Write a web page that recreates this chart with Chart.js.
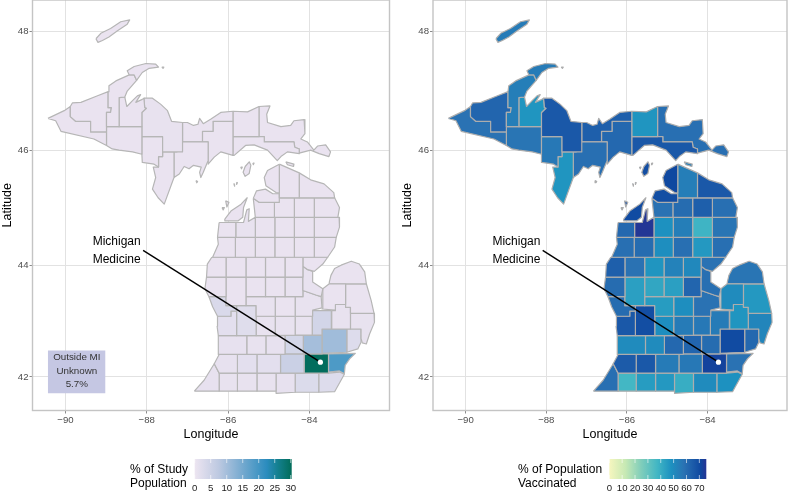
<!DOCTYPE html>
<html>
<head>
<meta charset="utf-8">
<script src="https://cdn.jsdelivr.net/npm/chart.js@4"></script>
<style>
  body { margin: 0; background: #fff; overflow: hidden; }
  canvas { position: absolute; top: -4px; }
  #mapStudy { left: 0; }
  #mapVaccine { left: 400px; }
</style>
</head>
<body>
<canvas id="mapStudy" width="400" height="504"></canvas>
<canvas id="mapVaccine" width="391" height="504"></canvas>
<script>
// ── data ──

const countyNames = [
  'Keweenaw', 'Houghton', 'Baraga', 'Ontonagon', 'Gogebic', 'Iron', 'Marquette', 'Dickinson',
  'Menominee', 'Delta', 'Alger', 'Schoolcraft', 'Luce', 'Mackinac', 'Chippewa',
  'Emmet', 'Cheboygan', 'Presque Isle', 'Charlevoix', 'Antrim', 'Otsego', 'Montmorency', 'Alpena',
  'Leelanau', 'Benzie', 'Grand Traverse', 'Kalkaska', 'Crawford', 'Oscoda', 'Alcona',
  'Manistee', 'Wexford', 'Missaukee', 'Roscommon', 'Ogemaw', 'Iosco',
  'Mason', 'Lake', 'Osceola', 'Clare', 'Gladwin', 'Arenac', 'Bay',
  'Oceana', 'Newaygo', 'Mecosta', 'Isabella', 'Midland',
  'Muskegon', 'Montcalm', 'Gratiot', 'Saginaw', 'Tuscola', 'Huron', 'Sanilac',
  'Ottawa', 'Kent', 'Ionia', 'Clinton', 'Shiawassee', 'Genesee', 'Lapeer', 'St Clair',
  'Allegan', 'Barry', 'Eaton', 'Ingham', 'Livingston', 'Oakland', 'Macomb',
  'Van Buren', 'Kalamazoo', 'Calhoun', 'Jackson', 'Washtenaw', 'Wayne',
  'Berrien', 'Cass', 'St Joseph', 'Branch', 'Hillsdale', 'Lenawee', 'Monroe'
];

// % of study population, same order as countyNames
const studyPct = [
  0.5, 0.5, 0.5, 0.5, 0.5, 0.5, 0.8, 0.5,
  0.5, 0.5, 0.5, 0.5, 0.5, 0.5, 0.5,
  0.5, 0.5, 0.5, 0.5, 0.5, 0.5, 0.5, 0.5,
  0.5, 0.5, 0.8, 0.5, 0.5, 0.5, 0.5,
  0.5, 0.5, 0.5, 0.5, 0.5, 0.5,
  0.5, 0.5, 0.5, 0.5, 0.5, 0.5, 0.8,
  0.5, 0.5, 0.5, 0.5, 0.8,
  3.2, 0.8, 0.5, 0.8, 0.5, 0.5, 0.5,
  1.5, 2.2, 0.8, 0.8, 0.8, 4.2, 0.8, 0.8,
  1, 0.8, 1, 4, 10, 10.5, 2.5,
  1, 1.5, 1.5, 5.5, 30, 19,
  1, 0.8, 0.8, 0.8, 1, 2.8, 2.5
];

// % of population vaccinated, same order as countyNames
const vaccinatedPct = [
  55, 54, 47, 62, 58, 57, 66, 56,
  47, 59, 64, 61, 47, 66, 59,
  71, 54, 66, 69, 58, 60, 64, 59,
  70, 61, 75, 48, 54, 38, 57,
  59, 60, 49, 59, 46, 59,
  64, 58, 47, 53, 51, 58, 59,
  60, 44, 42, 44, 62,
  60, 45, 49, 58, 50, 57, 46,
  66, 69, 49, 55, 56, 55, 47, 52,
  50, 50, 61, 62, 60, 70, 61,
  65, 66, 55, 56, 72, 58,
  59, 37, 45, 46, 40, 50, 48
];

// county outlines, lon,lat pairs, same order as countyNames
const countyOutlines = [
  [-88.43,47.28, -88.48,47.35, -88.31,47.42, -88.02,47.47, -87.78,47.46, -87.71,47.41, -87.94,47.39, -88.11,47.32, -88.25,47.19, -88.31,47.28],
  [-88.95,47.00, -88.93,47.10, -88.76,47.18, -88.43,47.28, -88.31,47.28, -88.25,47.19, -88.48,47.01, -88.54,46.91, -88.68,46.90, -88.68,46.41, -88.99,46.41, -88.99,46.65, -88.89,46.65, -88.87,46.73, -88.95,46.73],
  [-88.68,46.90, -88.54,46.91, -88.49,46.75, -88.35,46.85, -88.23,46.93, -88.15,46.95, -88.27,46.82, -88.11,46.87, -88.07,46.89, -88.05,46.73, -88.01,46.72, -88.12,46.65, -88.12,46.41, -88.68,46.41],
  [-89.88,46.75, -89.83,46.81, -89.62,46.82, -89.21,46.93, -88.95,47.00, -88.95,46.73, -88.87,46.73, -88.89,46.65, -88.99,46.65, -88.99,46.32, -89.38,46.32, -89.38,46.50, -89.75,46.50, -89.88,46.58],
  [-90.43,46.55, -90.03,46.68, -89.88,46.75, -89.88,46.58, -89.75,46.50, -89.38,46.50, -89.38,46.32, -88.99,46.32, -88.99,46.09, -89.30,46.20, -90.11,46.33, -90.24,46.51],
  [-88.99,46.41, -88.12,46.41, -88.12,45.94, -88.35,45.98, -88.68,46.01, -88.85,46.03, -88.99,46.09],
  [-88.07,46.89, -87.86,46.89, -87.66,46.79, -87.49,46.68, -87.39,46.50, -87.12,46.48, -87.12,45.98, -87.61,45.98, -87.61,46.24, -88.12,46.24, -88.12,46.65, -88.01,46.72, -88.05,46.73],
  [-88.12,46.24, -87.61,46.24, -87.61,45.90, -87.71,45.90, -87.71,45.72, -87.82,45.77, -88.11,45.80, -88.12,45.94],
  [-87.61,45.98, -87.33,45.98, -87.33,45.54, -87.57,45.08, -87.72,45.19, -87.86,45.34, -87.78,45.54, -87.84,45.72, -87.71,45.72, -87.71,45.90, -87.61,45.90],
  [-87.26,46.15, -86.49,46.15, -86.49,45.83, -86.51,45.80, -86.61,45.63, -86.67,45.54, -86.70,45.63, -86.66,45.72, -86.85,45.75, -86.96,45.69, -87.08,45.73, -87.20,45.60, -87.33,45.54, -87.33,45.98, -87.26,45.98],
  [-87.12,46.48, -87.00,46.48, -86.85,46.43, -86.74,46.45, -86.70,46.55, -86.61,46.46, -86.42,46.54, -86.18,46.65, -85.88,46.67, -85.88,46.50, -86.37,46.50, -86.37,46.33, -86.63,46.33, -86.63,46.15, -87.12,46.15],
  [-86.37,46.50, -85.88,46.50, -85.88,45.92, -86.18,45.98, -86.34,45.89, -86.49,45.77, -86.49,46.15, -86.63,46.15, -86.63,46.33, -86.37,46.33],
  [-85.88,46.67, -85.52,46.66, -85.24,46.75, -85.24,46.24, -85.88,46.24],
  [-85.88,46.24, -85.11,46.24, -85.11,46.15, -84.38,46.15, -84.36,46.06, -84.25,46.03, -84.25,45.95, -84.54,45.98, -84.70,45.90, -84.79,45.83, -85.03,46.01, -85.36,46.10, -85.57,46.09, -85.85,45.92, -85.88,45.92],
  [-85.24,46.75, -84.97,46.76, -85.05,46.62, -85.03,46.48, -84.70,46.41, -84.46,46.43, -84.38,46.51, -84.13,46.53, -84.11,46.29, -84.21,46.20, -84.05,46.15, -83.89,46.01, -83.80,46.08, -83.60,46.10, -83.48,45.98, -83.52,45.90, -83.76,45.95, -83.97,46.01, -84.25,45.96, -84.25,46.03, -84.36,46.06, -84.38,46.15, -85.11,46.15, -85.11,46.24, -85.24,46.24],

  [-84.74,45.77, -85.03,45.66, -85.11,45.54, -85.07,45.40, -84.82,45.28, -84.74,45.27],
  [-84.74,45.77, -84.25,45.62, -84.25,45.19, -84.74,45.19],
  [-84.25,45.62, -83.97,45.50, -83.64,45.43, -83.40,45.28, -83.38,45.19, -84.25,45.19],
  [-85.38,45.18, -85.30,45.31, -85.08,45.34, -84.90,45.26, -84.74,45.26, -84.74,45.11, -85.23,45.11],
  [-85.38,45.18, -85.23,45.11, -84.86,45.11, -84.86,44.85, -85.33,44.85],
  [-84.86,45.19, -84.37,45.19, -84.37,44.85, -84.86,44.85],
  [-84.37,45.19, -83.88,45.19, -83.88,44.85, -84.37,44.85],
  [-83.88,45.19, -83.38,45.19, -83.26,45.02, -83.30,44.85, -83.88,44.85],
  [-86.08,44.82, -85.93,44.96, -85.68,45.08, -85.53,45.19, -85.62,45.02, -85.64,44.85, -85.75,44.79, -86.08,44.79],
  [-86.22,44.76, -85.81,44.76, -85.81,44.50, -86.26,44.50],
  [-85.81,44.76, -85.62,44.76, -85.54,44.98, -85.48,45.00, -85.50,44.78, -85.33,44.85, -85.33,44.50, -85.81,44.50],
  [-85.33,44.85, -84.85,44.85, -84.85,44.50, -85.33,44.50],
  [-84.85,44.85, -84.37,44.85, -84.37,44.50, -84.85,44.50],
  [-84.37,44.85, -83.88,44.85, -83.88,44.50, -84.37,44.50],
  [-83.88,44.85, -83.27,44.85, -83.26,44.68, -83.34,44.50, -83.88,44.50],

  [-86.26,44.50, -85.82,44.50, -85.82,44.15, -86.38,44.15, -86.24,44.38],
  [-85.82,44.50, -85.33,44.50, -85.33,44.15, -85.82,44.15],
  [-85.33,44.50, -84.85,44.50, -84.85,44.15, -85.33,44.15],
  [-84.85,44.50, -84.37,44.50, -84.37,44.15, -84.85,44.15],
  [-84.37,44.50, -83.88,44.50, -83.88,44.15, -84.37,44.15],
  [-83.88,44.50, -83.34,44.50, -83.38,44.33, -83.55,44.15, -83.88,44.15],

  [-86.40,44.15, -86.05,44.15, -86.05,43.80, -86.53,43.80, -86.51,44.03],
  [-86.05,44.15, -85.56,44.15, -85.56,43.80, -86.05,43.80],
  [-85.56,44.15, -85.08,44.15, -85.08,43.80, -85.56,43.80],
  [-85.08,44.15, -84.60,44.15, -84.60,43.80, -85.08,43.80],
  [-84.60,44.15, -84.16,44.15, -84.16,43.80, -84.60,43.80],
  [-84.16,44.15, -83.55,44.15, -83.67,44.03, -83.88,43.90, -84.04,43.93, -84.16,43.99],
  [-84.16,43.99, -84.04,43.93, -83.92,43.90, -83.92,43.71, -83.67,43.59, -83.71,43.45, -83.84,43.48, -84.16,43.56],

  [-86.53,43.80, -86.05,43.80, -86.05,43.45, -86.47,43.45, -86.57,43.59],
  [-86.05,43.80, -85.56,43.80, -85.56,43.29, -86.05,43.29],
  [-85.56,43.80, -85.08,43.80, -85.08,43.45, -85.56,43.45],
  [-85.08,43.80, -84.60,43.80, -84.60,43.45, -85.08,43.45],
  [-84.60,43.80, -84.16,43.80, -84.16,43.45, -84.60,43.45],

  [-86.47,43.45, -86.05,43.45, -86.05,43.29, -85.79,43.29, -85.79,43.19, -85.93,43.19, -85.93,43.10, -86.26,43.10, -86.38,43.27],
  [-85.56,43.45, -84.84,43.45, -84.84,43.10, -85.31,43.10, -85.31,43.29, -85.56,43.29],
  [-84.84,43.45, -84.35,43.45, -84.35,43.10, -84.84,43.10],
  [-84.35,43.45, -84.16,43.45, -84.16,43.56, -83.84,43.48, -83.71,43.45, -83.69,43.25, -83.92,43.21, -83.92,43.10, -84.35,43.10],
  [-83.67,43.59, -83.51,43.68, -83.11,43.68, -83.11,43.31, -83.36,43.31, -83.36,43.21, -83.69,43.23],
  [-83.51,43.68, -83.51,43.71, -83.47,43.83, -83.38,43.95, -83.22,44.01, -82.97,44.08, -82.77,44.03, -82.64,43.89, -82.60,43.68],
  [-83.11,43.68, -82.60,43.68, -82.48,43.38, -82.41,43.15, -82.99,43.15, -82.99,43.26, -83.11,43.26],

  [-86.26,43.10, -85.93,43.10, -85.93,43.19, -85.79,43.19, -85.79,42.75, -86.24,42.75, -86.27,42.92],
  [-85.79,43.29, -85.31,43.29, -85.31,42.75, -85.79,42.75],
  [-85.31,43.10, -84.84,43.10, -84.84,42.75, -85.31,42.75],
  [-84.84,43.10, -84.35,43.10, -84.35,42.76, -84.84,42.75],
  [-84.35,43.10, -83.93,43.10, -83.93,42.76, -84.35,42.76],
  [-83.93,43.20, -83.46,43.20, -83.46,42.87, -83.69,42.87, -83.69,42.76, -83.93,42.76],
  [-83.45,43.20, -83.36,43.20, -83.36,43.31, -83.11,43.31, -83.11,43.26, -82.99,43.26, -82.99,42.87, -83.45,42.87],
  [-82.99,43.15, -82.41,43.15, -82.40,42.99, -82.52,42.78, -82.60,42.60, -82.70,42.62, -82.73,42.70, -82.73,42.87, -82.99,42.87],

  [-86.24,42.75, -85.54,42.75, -85.54,42.41, -86.24,42.41],
  [-85.54,42.75, -85.07,42.75, -85.07,42.41, -85.54,42.41],
  [-85.07,42.75, -84.60,42.75, -84.60,42.41, -85.07,42.41],
  [-84.60,42.76, -84.15,42.76, -84.15,42.42, -84.60,42.42],
  [-84.15,42.76, -83.69,42.76, -83.69,42.42, -84.15,42.42],
  [-83.69,42.87, -83.08,42.87, -83.08,42.45, -83.69,42.43],
  [-83.08,42.87, -82.73,42.87, -82.73,42.63, -82.81,42.51, -83.08,42.45],

  [-86.22,42.41, -85.77,42.41, -85.77,42.07, -86.22,42.07, -86.34,42.24],
  [-85.77,42.41, -85.29,42.41, -85.29,42.07, -85.77,42.07],
  [-85.29,42.41, -84.71,42.41, -84.71,42.07, -85.29,42.07],
  [-84.71,42.42, -84.13,42.42, -84.13,42.07, -84.71,42.07],
  [-84.13,42.42, -83.53,42.42, -83.53,42.07, -84.13,42.07],
  [-83.53,42.42, -82.87,42.43, -83.01,42.33, -83.12,42.21, -83.14,42.06, -83.26,42.11, -83.53,42.09],

  [-86.83,41.74, -86.59,41.94, -86.34,42.24, -86.22,42.07, -86.22,41.74],
  [-86.22,42.07, -85.77,42.07, -85.77,41.74, -86.22,41.74],
  [-85.77,42.07, -85.29,42.07, -85.29,41.74, -85.77,41.74],
  [-85.29,42.07, -84.82,42.07, -84.82,41.74, -85.29,41.74],
  [-84.82,42.07, -84.35,42.07, -84.35,41.72, -84.82,41.70],
  [-84.35,42.07, -83.77,42.07, -83.77,41.72, -84.35,41.72],
  [-83.77,42.07, -83.53,42.07, -83.26,42.09, -83.14,42.05, -83.38,41.73, -83.77,41.72]
];

const islandCounty = ['Keweenaw', 'Keweenaw', 'Charlevoix', 'Charlevoix', 'Charlevoix', 'Charlevoix', 'Charlevoix', 'Delta', 'Leelanau', 'Leelanau', 'Mackinac', 'Cheboygan'];
const islandOutlines = [
  [-89.25,47.88, -89.13,47.97, -88.89,48.05, -88.64,48.16, -88.42,48.19, -88.48,48.12, -88.72,48.01, -88.93,47.91, -89.09,47.85, -89.20,47.82],
  [-87.63,47.41, -87.58,47.41, -87.60,47.39],
  [-85.58,45.73, -85.48,45.81, -85.44,45.75, -85.48,45.61, -85.58,45.56, -85.63,45.63],
  [-85.69,45.72, -85.65,45.72, -85.67,45.69],
  [-85.39,45.79, -85.36,45.79, -85.38,45.76],
  [-85.86,45.44, -85.84,45.42, -85.84,45.39],
  [-85.79,45.46, -85.77,45.45, -85.79,45.42],
  [-86.79,45.49, -86.75,45.47, -86.77,45.45],
  [-86.06,45.14, -85.98,45.11, -86.03,45.03],
  [-86.15,45.02, -86.09,45.02, -86.12,44.98],
  [-84.70,45.98, -84.64,45.97, -84.66,45.93],
  [-84.58,45.81, -84.38,45.77, -84.39,45.73, -84.54,45.76]
];

const lonTicks = [-90, -88, -86, -84];
const latTicks = [42, 44, 46, 48];

const siteLonLat = [-83.73, 42.27];
const siteLineStart = [-88.09, 44.27];
const siteLabel = ['Michigan', 'Medicine'];
const siteLabelLon = -88.74;
const siteLabelLat = [44.43, 44.10];

const outsideText = ['Outside MI', 'Unknown', '5.7%'];
const outsideBox = [-90.43,42.48, -89.02,42.48, -89.02,41.70, -90.43,41.70];
const outsideTextLon = -89.72;
const outsideTextLat = [42.36, 42.11, 41.87];

const studyBreaks = [0, 5, 10, 15, 20, 25, 30];
const studyStops = [[0, '#ede5f1'], [7.5, '#bdc9e1'], [15, '#74a9cf'], [22.5, '#2b8cbe'], [26, '#14808f'], [30.3, '#016c59']];
const vaccineBreaks = [0, 10, 20, 30, 40, 50, 60, 70];
const vaccineStops = [[0, '#f6f6bf'], [12.5, '#c7e9b4'], [25, '#7fcdbb'], [37.5, '#41b6c4'], [48, '#1d91c0'], [58, '#2a72b3'], [66, '#1a58a8'], [71, '#0f48a0'], [75.4, '#253494']];

// ── scale ──

const mercY = lat => Math.log(Math.tan(Math.PI / 4 + lat * Math.PI / 360));

/** 위도 축: 메르카토르 */
class MercatorScale extends Chart.LinearScale {
  static id = 'mercator';
  static defaults = Chart.LinearScale.defaults;
  getPixelForValue(value) {
    const lo = mercY(this.min), hi = mercY(this.max);
    return this.getPixelForDecimal((mercY(value) - lo) / (hi - lo));
  }
}
Chart.register(MercatorScale);

// ── colours ──

function hexToRgb(h) {
  return [1, 3, 5].map(i => parseInt(h.slice(i, i + 2), 16));
}

function colourFor(stops, v) {
  let i = 0;
  while (i < stops.length - 2 && v > stops[i + 1][0]) i++;
  const [a, ca] = stops[i], [b, cb] = stops[i + 1];
  const t = Math.min(1, Math.max(0, (v - a) / (b - a)));
  const ra = hexToRgb(ca), rb = hexToRgb(cb);
  return `rgb(${ra.map((c, k) => Math.round(c + (rb[k] - c) * t)).join(',')})`;
}

function toPoints(flat) {
  const pts = [];
  for (let i = 0; i < flat.length; i += 2) pts.push({ x: flat[i], y: flat[i + 1] });
  pts.push({ x: flat[0], y: flat[1] });
  return pts;
}

function polygon(flat, fillColour, edgeColour) {
  return {
    data: toPoints(flat),
    showLine: true,
    fill: 'shape',
    backgroundColor: fillColour,
    borderColor: edgeColour,
    borderWidth: edgeColour === 'transparent' ? 0 : 1.2,
    borderJoinStyle: 'round',
    pointRadius: 0,
    tension: 0,
    order: 3
  };
}

// ── plugins ──

/** 패널 테두리 */
const panelFrame = {
  id: 'panelFrame',
  afterDatasetsDraw(chart) {
    const { ctx, chartArea: a } = chart;
    ctx.save();
    ctx.strokeStyle = '#c4c4c4';
    ctx.lineWidth = 1.4;
    ctx.strokeRect(a.left, a.top, a.right - a.left, a.bottom - a.top);
    ctx.restore();
  }
};

/** 지도 위 글자 */
function mapText(opts) {
  return {
    id: 'mapText',
    afterDraw(chart) {
      const { ctx, scales: { x, y } } = chart;
      ctx.save();
      ctx.textAlign = 'center';
      ctx.textBaseline = 'middle';
      ctx.fillStyle = '#000';
      ctx.font = '12px "Liberation Sans"';
      siteLabel.forEach((t, i) => ctx.fillText(t, x.getPixelForValue(siteLabelLon), y.getPixelForValue(siteLabelLat[i])));
      if (opts.showOutside) {
        ctx.fillStyle = '#333';
        ctx.font = '9.8px "Liberation Sans"';
        outsideText.forEach((t, i) => ctx.fillText(t, x.getPixelForValue(outsideTextLon), y.getPixelForValue(outsideTextLat[i])));
      }
      ctx.restore();
    }
  };
}

/** 컬러바 범례 */
function colourBar(opts) {
  return {
    id: 'colourBar',
    afterDraw(chart) {
      const { ctx } = chart;
      const { left, width, top, height, max, stops, breaks, title, titleX } = opts;
      const grad = ctx.createLinearGradient(left, 0, left + width, 0);
      stops.forEach(([v, c]) => grad.addColorStop(Math.min(1, v / max), c));
      ctx.save();
      ctx.fillStyle = grad;
      ctx.fillRect(left, top, width, height);
      ctx.strokeStyle = '#fff';
      ctx.lineWidth = 0.6;
      ctx.fillStyle = '#1a1a1a';
      ctx.font = '9.6px "Liberation Sans"';
      ctx.textAlign = 'center';
      ctx.textBaseline = 'middle';
      breaks.forEach(b => {
        const px = left + b / max * width;
        ctx.beginPath();
        ctx.moveTo(px, top); ctx.lineTo(px, top + 4);
        ctx.moveTo(px, top + height - 4); ctx.lineTo(px, top + height);
        ctx.stroke();
        ctx.fillText(String(b), px, top + height + 9);
      });
      ctx.fillStyle = '#000';
      ctx.font = '12px "Liberation Sans"';
      ctx.textAlign = 'left';
      title.forEach((t, i) => ctx.fillText(t, titleX, top + 11 + i * 13.5));
      ctx.restore();
    }
  };
}

// ── chart ──

function drawMap(canvasId, values, stops, edgeColour, opts) {
  const datasets = [];
  countyOutlines.forEach((flat, i) => {
    datasets.push(polygon(flat, colourFor(stops, values[i]), edgeColour));
  });
  islandOutlines.forEach((flat, i) => {
    const v = values[countyNames.indexOf(islandCounty[i])];
    datasets.push(polygon(flat, colourFor(stops, v), edgeColour));
  });
  if (opts.showOutside) {
    datasets.push(polygon(outsideBox, '#c5c7e3', 'transparent'));
  }
  datasets.push({
    data: [{ x: siteLineStart[0], y: siteLineStart[1] }, { x: siteLonLat[0], y: siteLonLat[1] }],
    showLine: true, borderColor: '#000', borderWidth: 1.4, pointRadius: 0, fill: false, order: 2
  });
  datasets.push({
    data: [{ x: siteLonLat[0], y: siteLonLat[1] }],
    showLine: false, pointRadius: 2.6, pointBackgroundColor: '#fff', pointBorderWidth: 0, order: 1
  });

  new Chart(document.getElementById(canvasId), {
    type: 'scatter',
    data: { datasets },
    plugins: [panelFrame, mapText(opts), colourBar(opts.legend)],
    options: {
      responsive: false,
      animation: false,
      events: [],
      layout: { padding: { top: 0, right: opts.rightPad, bottom: 57.5, left: 0 } },
      plugins: { legend: { display: false }, tooltip: { enabled: false } },
      scales: {
        x: {
          type: 'linear', min: -90.81, max: -82.03,
          afterBuildTicks: s => { s.ticks = lonTicks.map(v => ({ value: v })); },
          afterFit: s => { s.height = 32; s.paddingLeft = 0; s.paddingRight = 0; },
          grid: { color: '#e2e2e2', tickColor: '#8a8a8a', tickLength: 3, lineWidth: 1 },
          border: { display: false },
          ticks: {
            color: '#4d4d4d', font: { family: 'Liberation Sans', size: 9.6 }, padding: 1, maxRotation: 0,
            callback: v => String(v).replace('-', '\u2212')
          },
          title: { display: true, text: 'Longitude', color: '#000', font: { family: 'Liberation Sans', size: 12.5 }, padding: 0 }
        },
        y: {
          type: 'mercator', min: 41.384, max: 48.515,
          afterBuildTicks: s => { s.ticks = latTicks.map(v => ({ value: v })); },
          afterFit: s => { s.width = opts.yWidth; s.paddingTop = 0; s.paddingBottom = 0; },
          grid: { color: '#e2e2e2', tickColor: '#8a8a8a', tickLength: 3, lineWidth: 1 },
          border: { display: false },
          ticks: { color: '#4d4d4d', font: { family: 'Liberation Sans', size: 9.6 }, padding: 1 },
          title: { display: true, text: 'Latitude', color: '#000', font: { family: 'Liberation Sans', size: 12.5 }, padding: 0 }
        }
      }
    }
  });
}

drawMap('mapStudy', studyPct, studyStops, '#b6b6b6', {
  showOutside: true, rightPad: 10.5, yWidth: 32.5,
  legend: { left: 194.7, width: 97, top: 463, height: 20, max: 30.3, stops: studyStops, breaks: studyBreaks, title: ['% of Study', 'Population'], titleX: 130 }
});
drawMap('mapVaccine', vaccinatedPct, vaccineStops, '#adadad', {
  showOutside: false, rightPad: 1, yWidth: 33,
  legend: { left: 209.3, width: 97, top: 463, height: 20, max: 75.4, stops: vaccineStops, breaks: vaccineBreaks, title: ['% of Population', 'Vaccinated'], titleX: 118 }
});
</script>
</body>
</html>
